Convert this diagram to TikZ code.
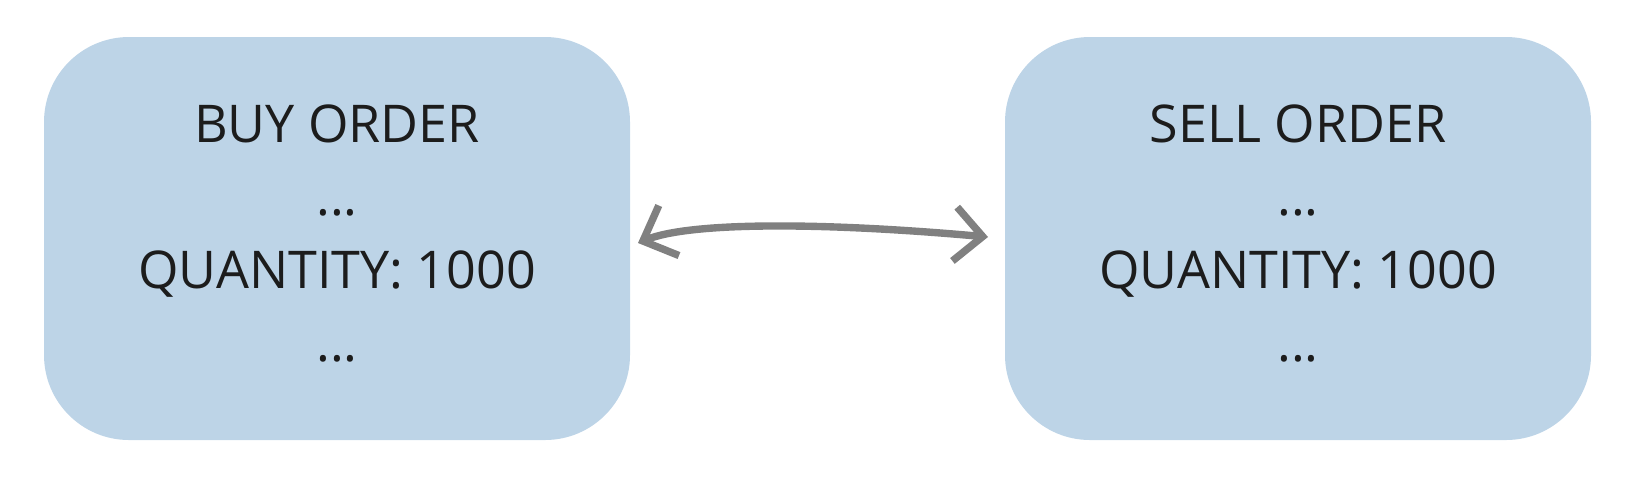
\documentclass[tikz,border=0pt]{standalone}
\usepackage{fontspec}
\setmainfont{Open Sans}
\usetikzlibrary{arrows.meta,backgrounds}
\pgfdeclarelayer{edgelayer}
\pgfdeclarelayer{nodelayer}
\pgfsetlayers{edgelayer,nodelayer,main}
\definecolor{orderblue}{HTML}{BDD4E7}
\definecolor{edgegrey}{HTML}{808080}
\definecolor{inkdark}{HTML}{1C1C1C}
\tikzset{font=\fontsize{14.8}{20.8}\selectfont}
\tikzstyle{none}=[inner sep=0pt]
\tikzstyle{order}=[rectangle,rounded corners=0.85cm,fill=orderblue,text=inkdark,align=center,minimum width=5.86cm,minimum height=4.03cm,inner sep=0pt]
\tikzstyle{trade}=[draw=edgegrey,line width=2.1pt,{Straight Barb[length=0.28cm,width=0.54cm]}-{Straight Barb[length=0.28cm,width=0.54cm]}]

\begin{document}
\begin{tikzpicture}
	\useasboundingbox (0, 0) rectangle (16.4, 4.78);
	\begin{pgfonlayer}{nodelayer}
		\node [style=order] (0) at (3.37, 2.395) {BUY ORDER\\...\\QUANTITY: 1000\\...\rule[-0.11cm]{0pt}{0pt}};
		\node [style=order] (1) at (12.98, 2.395) {SELL ORDER\\...\\QUANTITY: 1000\\...\rule[-0.11cm]{0pt}{0pt}};
		\node [style=none] (2) at (6.38, 2.35) {};
		\node [style=none] (3) at (9.88, 2.41) {};
	\end{pgfonlayer}
	\begin{pgfonlayer}{edgelayer}
		\draw [style=trade] (2.center) .. controls (6.9, 2.56) and (8.2, 2.56) .. (3.center);
	\end{pgfonlayer}
\end{tikzpicture}
\end{document}
